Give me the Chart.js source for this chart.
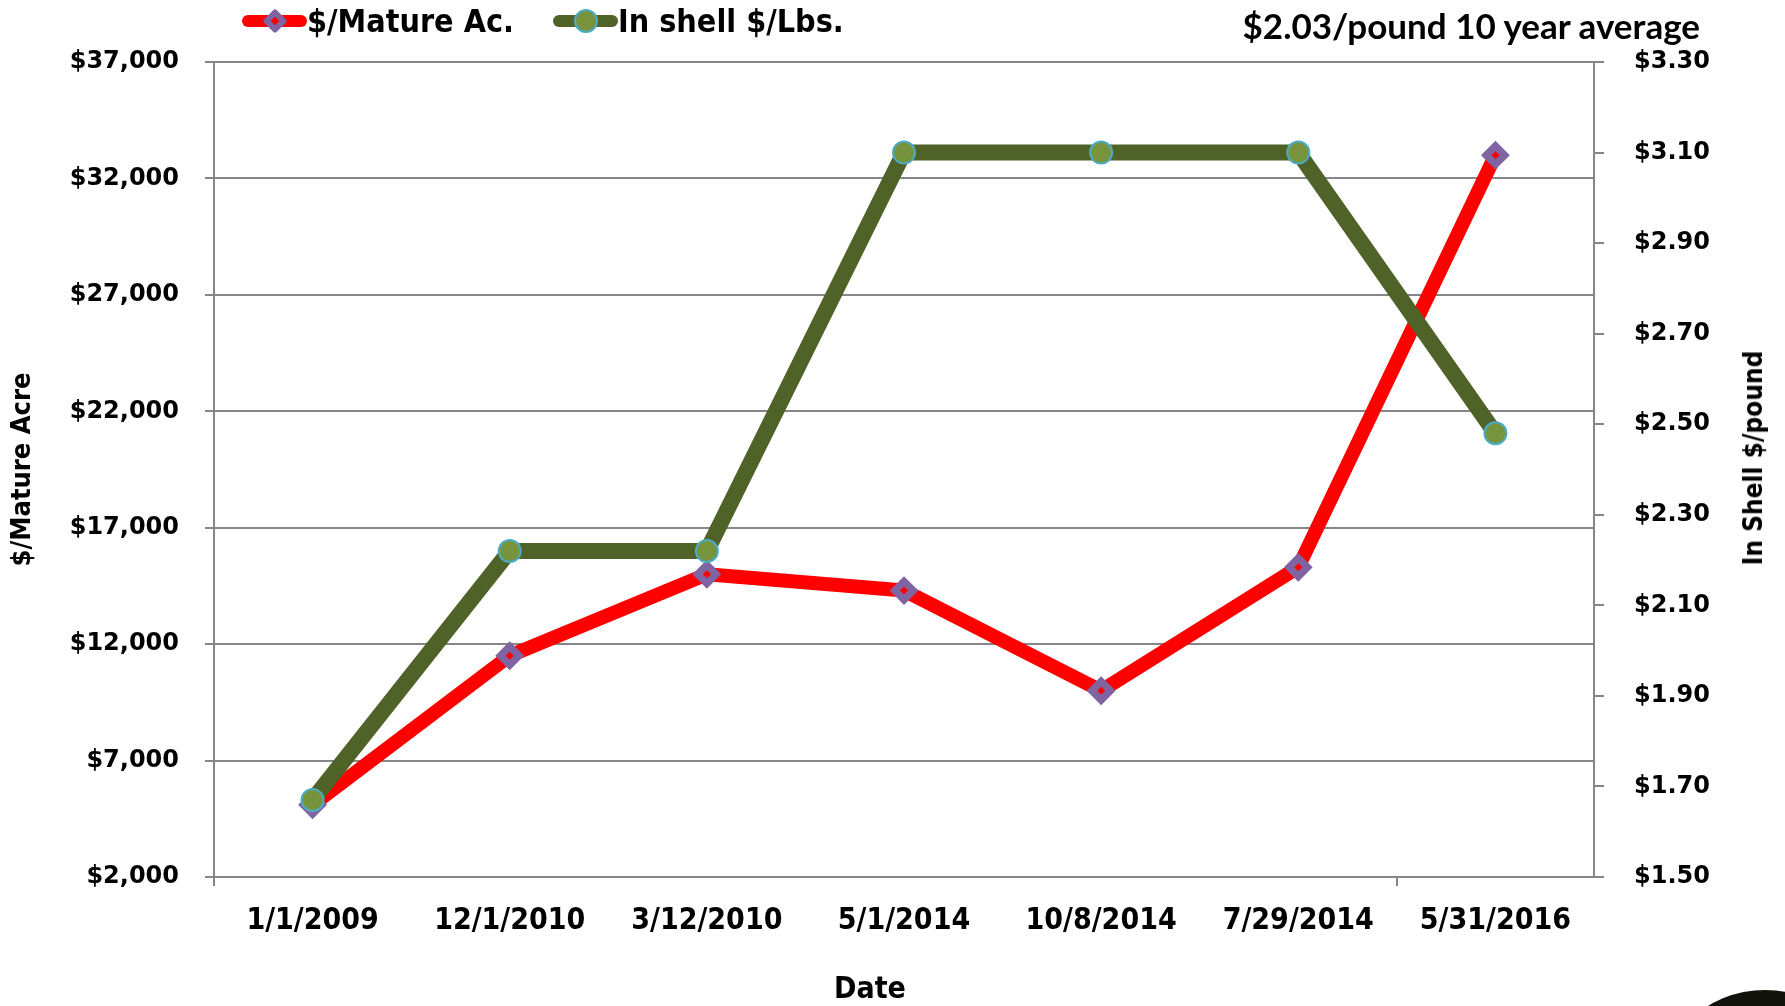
<!DOCTYPE html>
<html>
<head>
<meta charset="utf-8">
<script src="https://cdn.jsdelivr.net/npm/chart.js@4.4.1/dist/chart.umd.min.js"></script>
<style>
body { margin: 0; background: #fff; }
#wrap { position: relative; width: 1785px; height: 1006px; overflow: hidden; }
.narrow { font-family: 'Liberation Sans Narrow', 'DejaVu Sans Condensed', sans-serif; font-weight: bold; color: #000; }
.legend-item { position: absolute; top: 0; height: 42px; display: flex; align-items: center; font-size: 32px; white-space: nowrap; }
.swatch { position: relative; width: 65px; height: 12px; border-radius: 6px; }
.swatch .mark { position: absolute; left: 50%; top: 50%; }
#note { position: absolute; right: 85px; top: 5px; font: bold 35px 'Lato', 'Open Sans', sans-serif; line-height: 40px; white-space: nowrap; }
#rtitle { position: absolute; left: 1753px; top: 458px; font-size: 26px; line-height: 26px; white-space: nowrap; transform: translate(-50%, -50%) rotate(-90deg); }
#xtitle { position: absolute; left: 870px; top: 988px; font-size: 30px; line-height: 30px; white-space: nowrap; transform: translate(-50%, -50%); }
#blob { position: absolute; left: 1655px; top: 990px; width: 220px; height: 220px; border-radius: 50%; background: #10120b; }
</style>
</head>
<body>
<div id="wrap">
  <canvas id="chart" width="1785" height="1006"></canvas>
  <div id="note">$2.03/pound 10 year average</div>
  <div id="rtitle" class="narrow">In Shell $/pound</div>
  <div id="xtitle" class="narrow">Date</div>
  <div id="blob"></div>
</div>
<script>
var categories = ['1/1/2009', '12/1/2010', '3/12/2010', '5/1/2014', '10/8/2014', '7/29/2014', '5/31/2016'];
var perAcre = [5100, 11500, 15000, 14300, 10000, 15300, 33000];
var perPound = [1.67, 2.22, 2.22, 3.10, 3.10, 3.10, 2.48];
var acreTicks = [2000, 7000, 12000, 17000, 22000, 27000, 32000, 37000];
var poundTicks = [1.50, 1.70, 1.90, 2.10, 2.30, 2.50, 2.70, 2.90, 3.10, 3.30];
var seriesNames = ['$/Mature Ac.', 'In shell $/Lbs.'];

var gray = '#868686';
var narrow = "'Liberation Sans Narrow', 'DejaVu Sans Condensed', sans-serif";
var wide = "'DejaVu Sans', Verdana, sans-serif";

// little red dot inside each diamond, like the original markers
var centerDots = {
    id: 'centerDots',
    afterDatasetDraw: function (chart, args) {
        if (args.index !== 0) return;
        var ctx = chart.ctx;
        ctx.save();
        ctx.fillStyle = '#FF0000';
        args.meta.data.forEach(function (pt) {
            ctx.beginPath();
            ctx.moveTo(pt.x, pt.y - 4);
            ctx.lineTo(pt.x + 4, pt.y);
            ctx.lineTo(pt.x, pt.y + 4);
            ctx.lineTo(pt.x - 4, pt.y);
            ctx.closePath();
            ctx.fill();
        });
        ctx.restore();
    }
};

var ctx = document.getElementById('chart').getContext('2d');
var chart = new Chart(ctx, {
    type: 'line',
    data: {
        labels: categories,
        datasets: [{
            label: seriesNames[0],
            data: perAcre,
            yAxisID: 'y',
            order: 2,
            borderColor: '#FF0000',
            borderWidth: 14,
            borderCapStyle: 'round',
            borderJoinStyle: 'round',
            tension: 0,
            pointStyle: 'rectRot',
            pointRadius: 13,
            pointBackgroundColor: '#8064A2',
            pointBorderColor: '#8064A2',
            pointBorderWidth: 2
        }, {
            label: seriesNames[1],
            data: perPound,
            yAxisID: 'y1',
            order: 1,
            borderColor: '#4F6228',
            borderWidth: 16,
            borderCapStyle: 'round',
            borderJoinStyle: 'round',
            tension: 0,
            pointStyle: 'circle',
            pointRadius: 11,
            pointBackgroundColor: '#77933C',
            pointBorderColor: '#4BACC6',
            pointBorderWidth: 2
        }]
    },
    options: {
        responsive: false,
        animation: false,
        events: [],
        layout: { padding: { top: 62, left: 0, right: 0, bottom: 0 } },
        plugins: { legend: { display: false }, tooltip: { enabled: false } },
        scales: {
            x: {
                offset: true,
                grid: {
                    offset: true,
                    drawOnChartArea: false,
                    tickLength: 9,
                    lineWidth: 2,
                    color: function (c) { return (c.index === 0 || c.index === 6) ? gray : 'rgba(0,0,0,0)'; }
                },
                border: { color: gray, width: 2 },
                ticks: { color: '#000', padding: 17, maxRotation: 0, autoSkip: false, font: { family: narrow, weight: 'bold', size: 30 } },
                afterFit: function (s) { s.height = 129; }
            },
            y: {
                position: 'left',
                min: 2000,
                max: 37000,
                afterBuildTicks: function (s) { s.ticks = acreTicks.map(function (v) { return { value: v }; }); },
                grid: { color: gray, lineWidth: 2, tickLength: 9 },
                border: { color: gray, width: 2 },
                ticks: {
                    color: '#000', padding: 26,
                    font: { family: wide, weight: 'bold', size: 24 },
                    callback: function (v) { return '$' + v.toLocaleString('en-US'); }
                },
                title: { display: true, text: '$/Mature Acre', color: '#000', padding: { top: 9, bottom: 0 }, font: { family: narrow, weight: 'bold', size: 27, lineHeight: 1 } },
                afterFit: function (s) { s.width = 214; }
            },
            y1: {
                position: 'right',
                min: 1.5,
                max: 3.3,
                afterBuildTicks: function (s) { s.ticks = poundTicks.map(function (v) { return { value: v }; }); },
                grid: { drawOnChartArea: false, color: gray, lineWidth: 2, tickLength: 10 },
                border: { color: gray, width: 2 },
                ticks: {
                    color: '#000', padding: 30,
                    font: { family: wide, weight: 'bold', size: 24 },
                    callback: function (v) { return '$' + Number(v).toFixed(2); }
                },
                afterFit: function (s) { s.width = 191; }
            }
        }
    },
    plugins: [centerDots]
});

// Excel-style legend: thick line with the marker on it, then the name
var legendLeft = [242, 553];
chart.data.datasets.forEach(function (ds, i) {
    var item = document.createElement('div');
    item.className = 'legend-item narrow';
    item.style.left = legendLeft[i] + 'px';

    var sw = document.createElement('div');
    sw.className = 'swatch';
    sw.style.background = ds.borderColor;
    var mark = document.createElement('div');
    mark.className = 'mark';
    if (ds.pointStyle === 'rectRot') {
        mark.style.cssText += 'width:18px;height:18px;margin:-9px 0 0 -9px;background:' + ds.pointBackgroundColor +
            ';transform:rotate(45deg);border-radius:3px;';
        var dot = document.createElement('div');
        dot.style.cssText = 'position:absolute;left:6px;top:6px;width:6px;height:6px;background:#FF0000;';
        mark.appendChild(dot);
    } else {
        mark.style.cssText += 'width:20px;height:20px;margin:-12px 0 0 -12px;border-radius:50%;background:' +
            ds.pointBackgroundColor + ';border:2px solid ' + ds.pointBorderColor + ';';
    }
    sw.appendChild(mark);
    item.appendChild(sw);

    var txt = document.createElement('span');
    txt.textContent = ds.label;
    item.appendChild(txt);
    document.getElementById('wrap').appendChild(item);
});
</script>
</body>
</html>
